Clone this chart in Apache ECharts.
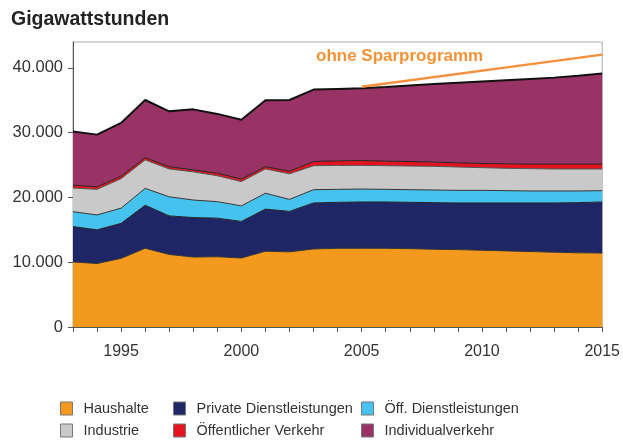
<!DOCTYPE html>
<html><head><meta charset="utf-8">
<script src="https://cdn.jsdelivr.net/npm/echarts@6/dist/echarts.min.js"></script>
<style>html,body{margin:0;padding:0;background:#fff}#c{width:623px;height:441px}</style>
</head><body><div id="c"></div>
<script>
const years = ['1993','1994','1995','1996','1997','1998','1999','2000','2001','2002','2003','2004','2005','2006','2007','2008','2009','2010','2011','2012','2013','2014','2015'];
const haushalte = [10050,9800,10600,12150,11200,10800,10850,10650,11700,11600,12050,12150,12150,12150,12100,12000,11950,11850,11750,11650,11550,11450,11420];
const privateDL = [5450,5200,5400,6650,5950,6100,5950,5650,6500,6250,7100,7100,7150,7150,7150,7200,7200,7300,7400,7500,7600,7750,7880];
const oeffDL = [2300,2300,2350,2600,2950,2700,2550,2400,2450,1850,2050,2000,2000,1950,1950,1950,1950,1950,1900,1850,1850,1800,1750];
const industrie = [3650,3950,4550,4400,4300,4350,4000,3750,3750,3950,3700,3700,3650,3650,3650,3650,3600,3500,3450,3450,3400,3400,3350];
const oeffVerkehr = [450,400,400,350,350,300,400,400,350,400,650,700,750,700,700,650,650,650,700,700,750,750,750];
const individual = [8300,8050,8200,8900,8550,9350,9150,9150,10250,11000,11100,11100,11150,11450,11750,12050,12350,12650,12900,13150,13350,13650,14000];
const ohneSpar = [null,null,null,null,null,null,null,null,null,null,null,null,37100,null,null,null,null,null,null,null,null,null,42050];
const yTicks = [0,10000,20000,30000,40000];

const FONT = 'Liberation Sans, Arial, sans-serif';
const names = ['Haushalte','Private Dienstleistungen','Öff. Dienstleistungen','Industrie','Öffentlicher Verkehr','Individualverkehr'];
const colors = ['#F39A1E','#1F2666','#45C3EE','#C9C9C9','#E3141F','#993366'];
const vals = [haushalte, privateDL, oeffDL, industrie, oeffVerkehr, individual];
const lineCols = ['#333','#222','#333','#555','#222','#111'];
const lineW = [1,1,1,1,1,2];

const series = vals.map((d,i)=>({
  name:names[i], type:'line', stack:'total', data:d, symbol:'none',
  lineStyle:{color:lineCols[i], width:lineW[i]},
  areaStyle:{color:colors[i], opacity:1},
  itemStyle:{color:colors[i]},
  z: 2
}));
series.push({
  name:'ohne Sparprogramm', type:'line', data:ohneSpar, connectNulls:true, symbol:'none',
  lineStyle:{color:'#F5913E', width:2.5}, z:5
});

const legendPos = [[60,401],[173,401],[361,401],[60,423],[173,423],[361,423]];
const legends = names.map((n,i)=>({
  data:[n], left:legendPos[i][0], top:legendPos[i][1], icon:'rect', padding:0,
  itemWidth:12, itemHeight:13, itemGap:0,
  itemStyle:{borderColor:'#777', borderWidth:1},
  textStyle:{fontFamily:FONT, fontSize:14.5, color:'#333', padding:[0,0,0,6]},
  selectedMode:false
}));

const chart = echarts.init(document.getElementById('c'), null, {renderer:'canvas'});
chart.setOption({
  animation:false,
  textStyle:{fontFamily:FONT},
  grid:{left:73, right:19, top:42, bottom:114, show:true, borderColor:'#aaa', borderWidth:1},
  legend:legends,
  title:{text:'Gigawattstunden', left:11, top:10, padding:0, textStyle:{fontFamily:FONT, fontSize:19.5, fontWeight:'bold', color:'#222'}},
  xAxis:{type:'category', data:years, boundaryGap:false,
    axisLine:{lineStyle:{color:'#555'}},
    axisTick:{show:true, interval:0, length:5, lineStyle:{color:'#555'}},
    axisLabel:{interval:(i,v)=>(+v)%5===0, fontSize:16, color:'#333', margin:17, fontFamily:FONT},
    splitLine:{show:false}},
  yAxis:{type:'value', min:0, max:44000, interval:10000,
    axisLine:{show:true, lineStyle:{color:'#555'}},
    axisTick:{show:true, length:5, lineStyle:{color:'#555'}},
    splitLine:{show:false},
    axisLabel:{fontSize:16.5, color:'#333', margin:10, fontFamily:FONT, showMaxLabel:false,
      formatter:v=> yTicks.includes(v) ? (v===0?'0':(v/1000)+'.000') : ''}},
  graphic:[{type:'text', left:316, top:48, style:{text:'ohne Sparprogramm', fill:'#F39237', font:'bold 17px '+FONT}}],
  series:series
});
</script></body></html>
